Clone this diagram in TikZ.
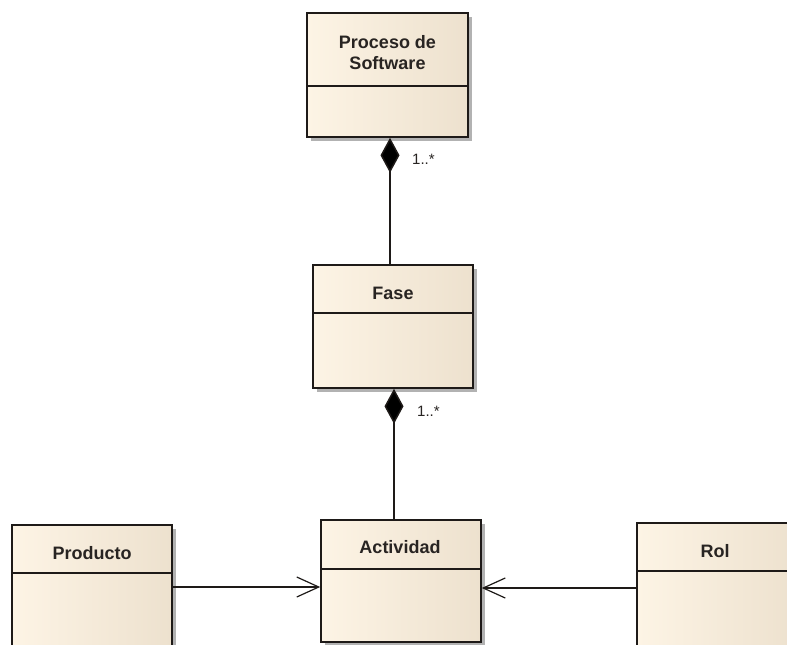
\documentclass[tikz,border=0pt]{standalone}
\usepackage{fontspec}
\setmainfont{Liberation Sans}
\usetikzlibrary{arrows.meta,shadows}
\definecolor{clsleft}{RGB}{253,244,229}
\definecolor{clsright}{RGB}{237,225,206}
\definecolor{edge}{RGB}{30,26,24}
\definecolor{ink}{RGB}{40,36,34}
\tikzset{
  umlclass/.style={draw=edge, line width=1.6pt, rectangle, inner sep=0pt,
    left color=clsleft, right color=clsright, shading angle=90,
    drop shadow={shadow xshift=4pt, shadow yshift=-4pt, fill=black!30, opacity=1}},
  classname/.style={font=\fontsize{18}{21.5}\selectfont\bfseries, text=ink, align=center, inner sep=0pt},
  compart/.style={draw=edge, line width=1.4pt},
  mult/.style={font=\fontsize{15}{17}\selectfont, text=ink, anchor=west, inner sep=0pt},
  composition/.style={draw=edge, line width=1.5pt, {Diamond[length=35pt,width=19pt,fill=black]}-},
  navigable/.style={draw=edge, line width=1.4pt, -{Straight Barb[length=22pt,width=20pt,line width=1.2pt]}}
}
\begin{document}
\begin{tikzpicture}[x=1pt,y=-1pt]
\useasboundingbox (0,0) rectangle (787,645);
\fill[white] (0,0) rectangle (787,645);
\clip (0,0) rectangle (787,645);

% class boxes
\node[umlclass, minimum width=161, minimum height=124] (proc) at (387.5,75) {};
\node[umlclass, minimum width=160, minimum height=123] (fase) at (393,326.5) {};
\node[umlclass, minimum width=160, minimum height=122] (act) at (401,581) {};
\node[umlclass, minimum width=160, minimum height=140] (prod) at (92,595) {};
\node[umlclass, minimum width=160, minimum height=140] (rol) at (717,593) {};

% compartment separators
\draw[compart] (proc.west |- 0,86) -- (proc.east |- 0,86);
\draw[compart] (fase.west |- 0,313) -- (fase.east |- 0,313);
\draw[compart] (act.west |- 0,569) -- (act.east |- 0,569);
\draw[compart] (prod.west |- 0,573) -- (prod.east |- 0,573);
\draw[compart] (rol.west |- 0,571) -- (rol.east |- 0,571);

% class names
\node[classname] (procname) at (387.5,52.5) {Proceso de\\Software};
\node[classname] (fasename) at (393,293) {Fase};
\node[classname] (actname) at (400,547) {Actividad};
\node[classname] (prodname) at (92,553) {Producto};
\node[classname] (rolname) at (715,551) {Rol};

% composition associations
\draw[composition] ([xshift=2.5pt]proc.south) -- ([xshift=-3pt]fase.north);
\draw[composition] ([xshift=1pt]fase.south) -- ([xshift=-7pt]act.north);
\node[mult] (m1) at (412,159) {1..*};
\node[mult] (m2) at (417,411) {1..*};

% directed associations
\draw[navigable] (prod.east |- 0,587) -- (act.west |- 0,587);
\draw[navigable] (rol.west |- 0,588) -- (act.east |- 0,588);
\end{tikzpicture}
\end{document}
